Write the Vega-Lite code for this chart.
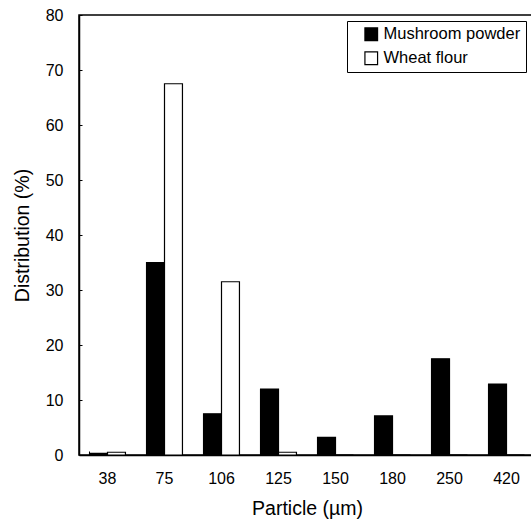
{
  "$schema": "https://vega.github.io/schema/vega-lite/v6.json",
  "width": 456,
  "height": 440,
  "autosize": "none",
  "padding": {"left": 79, "top": 15, "right": 0, "bottom": 70},
  "background": "white",
  "config": {
    "font": "Liberation Sans",
    "view": {"stroke": "black", "strokeWidth": 1.5},
    "axis": {"labelColor": "black", "titleColor": "black", "domainColor": "black", "tickColor": "black", "grid": false, "labelFontSize": 16, "titleFontSize": 19.5, "titleFontWeight": "normal", "domainWidth": 1.5}
  },
  "data": {
    "values": [
      {"particle": "38", "series": "Mushroom powder", "value": 0.3},
      {"particle": "38", "series": "Wheat flour", "value": 0.5},
      {"particle": "75", "series": "Mushroom powder", "value": 35},
      {"particle": "75", "series": "Wheat flour", "value": 67.5},
      {"particle": "106", "series": "Mushroom powder", "value": 7.5},
      {"particle": "106", "series": "Wheat flour", "value": 31.5},
      {"particle": "125", "series": "Mushroom powder", "value": 12},
      {"particle": "125", "series": "Wheat flour", "value": 0.5},
      {"particle": "150", "series": "Mushroom powder", "value": 3.2},
      {"particle": "150", "series": "Wheat flour", "value": 0},
      {"particle": "180", "series": "Mushroom powder", "value": 7.1},
      {"particle": "180", "series": "Wheat flour", "value": 0},
      {"particle": "250", "series": "Mushroom powder", "value": 17.5},
      {"particle": "250", "series": "Wheat flour", "value": 0},
      {"particle": "420", "series": "Mushroom powder", "value": 12.9},
      {"particle": "420", "series": "Wheat flour", "value": 0}
    ]
  },
  "mark": {"type": "bar", "stroke": "black", "strokeWidth": 1.2},
  "encoding": {
    "x": {
      "field": "particle", "type": "ordinal",
      "sort": ["38", "75", "106", "125", "150", "180", "250", "420"],
      "scale": {"paddingInner": 0.37, "paddingOuter": 0.185},
      "axis": {"title": "Particle (µm)", "labelAngle": 0, "tickSize": -4, "bandPosition": 0, "labelPadding": 19, "titlePadding": 13, "domainWidth": 1.5}
    },
    "xOffset": {"field": "series", "type": "nominal", "sort": ["Mushroom powder", "Wheat flour"]},
    "y": {
      "field": "value", "type": "quantitative",
      "scale": {"domain": [0, 80], "nice": false},
      "axis": {"title": "Distribution (%)", "values": [0, 10, 20, 30, 40, 50, 60, 70, 80], "tickSize": -3, "labelPadding": 19, "titlePadding": 13}
    },
    "fill": {
      "field": "series", "type": "nominal",
      "scale": {"domain": ["Mushroom powder", "Wheat flour"], "range": ["black", "white"]},
      "legend": {
        "title": null, "orient": "none", "legendX": 268, "legendY": 6,
        "symbolType": "square", "symbolSize": 160, "symbolStrokeColor": "black", "symbolStrokeWidth": 1.2,
        "labelFontSize": 16.5, "labelColor": "black", "strokeColor": "black", "fillColor": "white",
        "padding": 5, "rowPadding": 6, "labelOffset": 4, "symbolOffset": 11
      }
    }
  }
}
